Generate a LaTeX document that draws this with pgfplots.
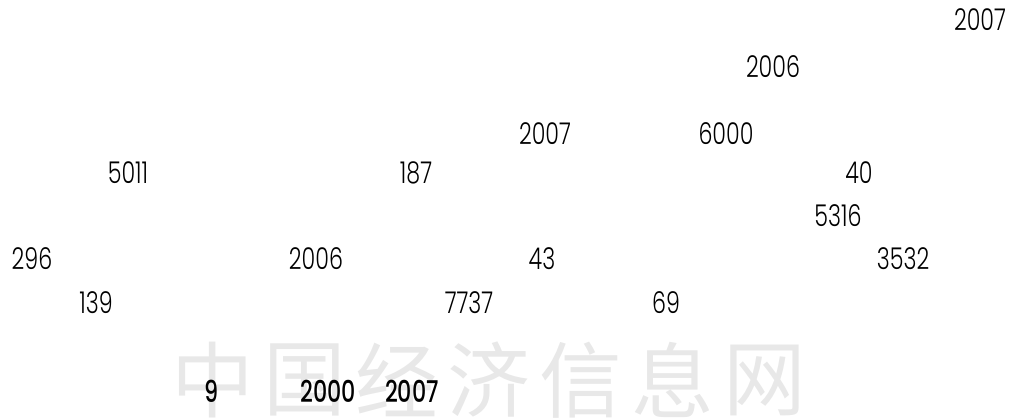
\documentclass[border=0pt]{standalone}
\usepackage{pgfplots}
\pgfplotsset{compat=1.18}
\usepackage{fontspec}
\setmainfont{Poppins}[UprightFont=* Light, BoldFont=* Medium, FakeStretch=0.74]
\newfontfamily\cjk{Noto Sans CJK SC}
\definecolor{wm}{HTML}{E8E8E8}

% positions in pixels of the 1012x420 page, y measured from the top
\pgfplotstableread{
x y t
980 20 2007
773 67 2006
545 134 2007
726 134 6000
128 173 5011
416 173 187
859 173 40
838 216 5316
32 259 296
316 259 2006
542 259 43
903 259 3532
96 303 139
469 303 7737
666 303 69
}\numbers
\pgfplotstableread{
x y t
212 391 9
328 391 2000
412 391 2007
}\boldnumbers
\pgfplotstableread{
x y t
213 380 中
305 380 国
397 380 经
489 380 济
581 380 信
673 380 息
765 380 网
}\watermark

\begin{document}
\begin{tikzpicture}
\useasboundingbox (0,0) rectangle (759pt,315pt);
\begin{axis}[
    at={(0,0)}, anchor=south west,
    scale only axis,
    width=759pt, height=315pt,
    xmin=0, xmax=1012, ymin=0, ymax=420,
    y dir=reverse,
    hide axis,
    clip=false,
  ]
  \addplot[draw=none, mark=none, nodes near coords, point meta=explicit symbolic,
    nodes near coords style={anchor=center, text=wm, font=\cjk\fontsize{62}{62}\selectfont}]
    table[meta=t] {\watermark};
  \addplot[draw=none, mark=none, nodes near coords, point meta=explicit symbolic,
    nodes near coords style={anchor=center, font=\fontsize{22.5}{22.5}\selectfont}]
    table[meta=t] {\numbers};
  \addplot[draw=none, mark=none, nodes near coords, point meta=explicit symbolic,
    nodes near coords style={anchor=center, font=\fontsize{22.5}{22.5}\selectfont\bfseries}]
    table[meta=t] {\boldnumbers};
\end{axis}
\end{tikzpicture}
\end{document}
